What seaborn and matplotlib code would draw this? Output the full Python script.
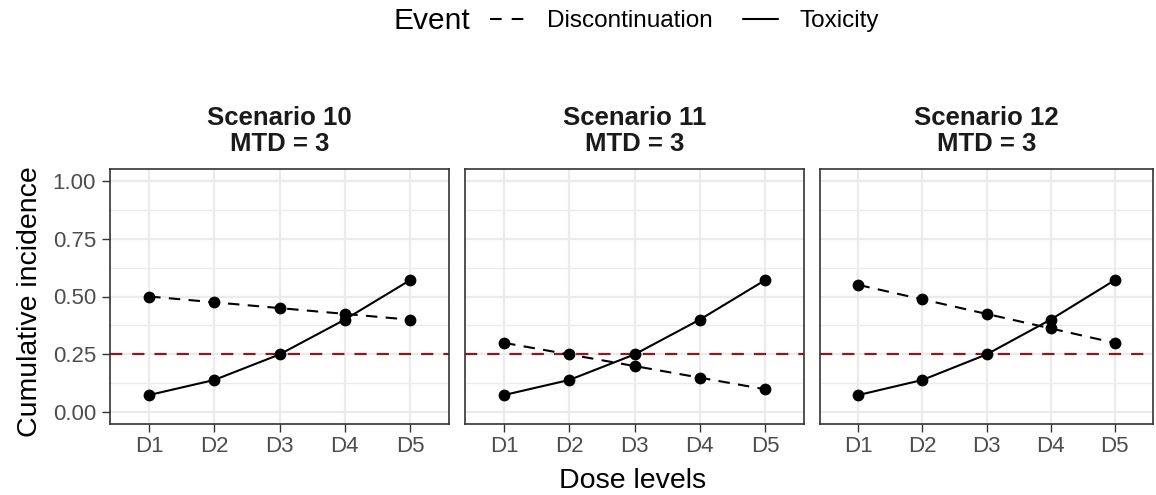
import numpy as np
import pandas as pd
import seaborn as sns
import matplotlib.pyplot as plt
from matplotlib.lines import Line2D
from matplotlib.ticker import MultipleLocator

doses = ["D1", "D2", "D3", "D4", "D5"]
scenarios = ["Scenario 10\nMTD = 3", "Scenario 11\nMTD = 3", "Scenario 12\nMTD = 3"]
toxicity = [0.075, 0.14, 0.25, 0.40, 0.57]
disc_10 = [0.50, 0.475, 0.45, 0.425, 0.40]
disc_11 = [0.30, 0.25, 0.20, 0.15, 0.10]
disc_12 = [0.55, 0.4875, 0.425, 0.3625, 0.30]
target = 0.25

rows = []
for sc, disc in zip(scenarios, [disc_10, disc_11, disc_12]):
    for d, t, q in zip(doses, toxicity, disc):
        rows.append({"Scenario": sc, "Dose": d, "Event": "Toxicity", "value": t})
        rows.append({"Scenario": sc, "Dose": d, "Event": "Discontinuation", "value": q})
df = pd.DataFrame(rows)

sns.set_theme(style="white")
plt.rcParams["font.family"] = ["Liberation Sans", "DejaVu Sans"]
plt.rcParams["text.color"] = "black"

W, H = 1156, 495
fig = plt.figure(figsize=(W / 100, H / 100), dpi=100)

panels_x = [(110, 449), (465, 804), (820, 1153)]
top, bottom = 169, 424
dash_map = {"Discontinuation": (5.5, 4), "Toxicity": ""}

for i, (sc, (x0, x1)) in enumerate(zip(scenarios, panels_x)):
    ax = fig.add_axes([x0 / W, 1 - bottom / H, (x1 - x0) / W, (bottom - top) / H])
    sub = df[df["Scenario"] == sc]
    ax.yaxis.set_major_locator(MultipleLocator(0.25))
    ax.yaxis.set_minor_locator(MultipleLocator(0.125))
    ax.grid(which="major", color="#EBEBEB", lw=1.6, zorder=0)
    ax.grid(which="minor", axis="y", color="#EBEBEB", lw=0.9, zorder=0)
    ax.set_axisbelow(True)
    ax.axhline(target, color="#8B1A1A", lw=1.6, dashes=(5.5, 4.5), zorder=1)
    sns.lineplot(data=sub, x="Dose", y="value", style="Event",
                 style_order=["Discontinuation", "Toxicity"],
                 dashes=dash_map, markers={"Discontinuation": "o", "Toxicity": "o"},
                 color="black", lw=1.5, markersize=8.5, markeredgewidth=0,
                 legend=False, ax=ax, zorder=3)
    ax.set_xlim(-0.6, 4.6)
    ax.set_ylim(-0.05, 1.05)
    ax.set_xlabel("")
    ax.set_ylabel("")
    ax.set_title(sc, fontsize=18.5, fontweight="bold", pad=13, linespacing=1.12,
                 color="#1A1A1A")
    for s in ax.spines.values():
        s.set_color("#333333")
        s.set_linewidth(1.2)
    ax.tick_params(axis="x", which="major", bottom=True, length=5.5, width=1,
                   color="#333333", labelsize=16, labelcolor="#4D4D4D", pad=3)
    if i == 0:
        ax.tick_params(axis="y", which="major", left=True, length=5.5, width=1,
                       color="#333333", labelsize=16, labelcolor="#4D4D4D", pad=4.5)
        ax.set_yticklabels([f"{v:.2f}" for v in ax.get_yticks()])
    else:
        ax.tick_params(axis="y", which="both", left=False, labelleft=False)
    ax.tick_params(axis="y", which="minor", left=False)

fig.text(633 / W, 1 - 481 / H, "Dose levels", ha="center", va="center", fontsize=20.5)
fig.text(30 / W, 1 - 302 / H, "Cumulative incidence", ha="center", va="center",
         rotation=90, fontsize=20.5)

fig.text(393 / W, 1 - 21 / H, "Event", ha="left", va="center", fontsize=21.5)
handles = [Line2D([], [], color="black", lw=1.5, dashes=(5.6, 4.8)),
           Line2D([], [], color="black", lw=1.5)]
fig.legend(handles, ["Discontinuation", "Toxicity"], loc="center left",
           bbox_to_anchor=(490 / W, 1 - 21 / H), ncol=2, frameon=False,
           fontsize=17.5, handlelength=1.44, handletextpad=0.9, columnspacing=1.23,
           borderpad=0, borderaxespad=0)

fig.savefig("out.png", dpi=100)
